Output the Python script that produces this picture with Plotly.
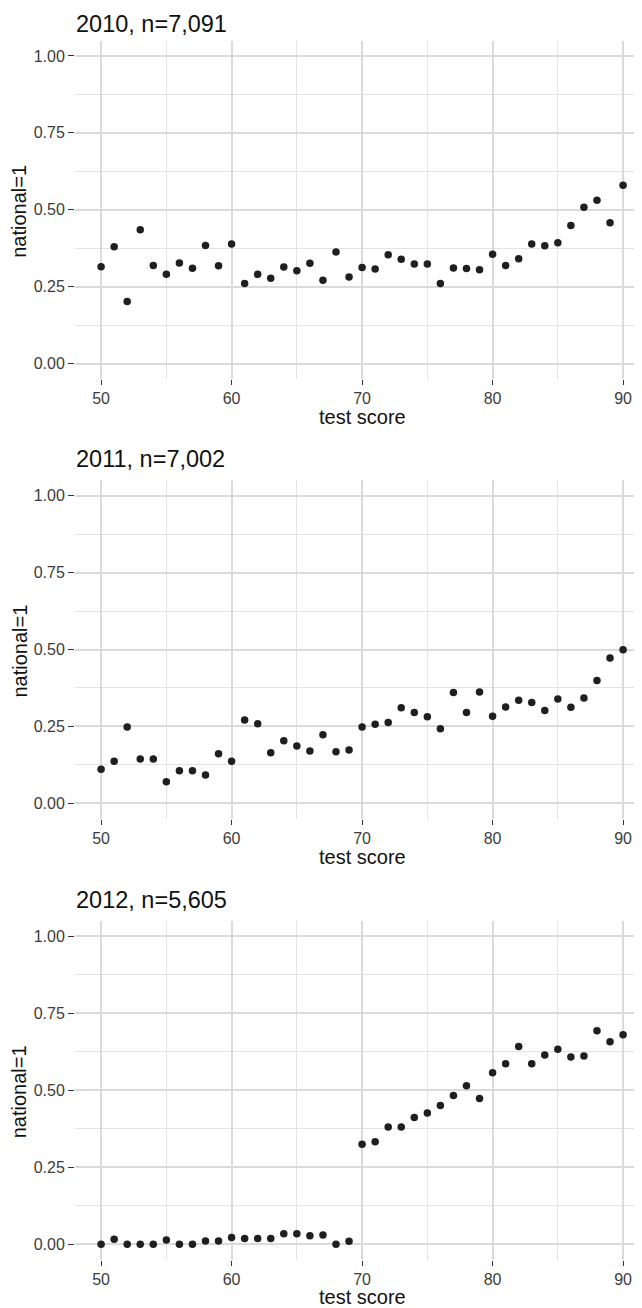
import plotly.graph_objects as go

scores = list(range(50, 91))

years = ["2010", "2011", "2012"]
titles = ["2010, n=7,091", "2011, n=7,002", "2012, n=5,605"]

rate_2010 = [0.315, 0.380, 0.202, 0.435, 0.319, 0.290, 0.327, 0.310, 0.384, 0.318,
             0.389, 0.260, 0.290, 0.277, 0.314, 0.302, 0.326, 0.271, 0.363, 0.281,
             0.312, 0.307, 0.354, 0.339, 0.324, 0.324, 0.260, 0.311, 0.309, 0.305,
             0.355, 0.319, 0.341, 0.389, 0.383, 0.393, 0.449, 0.508, 0.531, 0.458,
             0.580]
rate_2011 = [0.111, 0.137, 0.248, 0.144, 0.144, 0.070, 0.106, 0.106, 0.092, 0.161,
             0.137, 0.271, 0.259, 0.164, 0.203, 0.186, 0.170, 0.223, 0.168, 0.173,
             0.248, 0.257, 0.263, 0.311, 0.295, 0.281, 0.242, 0.360, 0.295, 0.362,
             0.283, 0.313, 0.335, 0.328, 0.302, 0.339, 0.312, 0.342, 0.399, 0.472,
             0.499]
rate_2012 = [0.000, 0.016, 0.000, 0.000, 0.000, 0.014, 0.000, 0.000, 0.011, 0.011,
             0.022, 0.019, 0.019, 0.019, 0.034, 0.034, 0.028, 0.030, 0.000, 0.010,
             0.325, 0.333, 0.381, 0.381, 0.412, 0.426, 0.451, 0.483, 0.515, 0.473,
             0.557, 0.586, 0.642, 0.586, 0.615, 0.633, 0.608, 0.611, 0.693, 0.658,
             0.680]
series = [rate_2010, rate_2011, rate_2012]

y_ticks = [0, 0.25, 0.5, 0.75, 1.0]
y_tick_labels = ["0.00", "0.25", "0.50", "0.75", "1.00"]
x_ticks = [50, 60, 70, 80, 90]
x_title = "test score"
y_title = "national=1"

# the page body has an 8px default margin, so the figure is drawn 8px in
OFF = 8
W, H = 642 - OFF, 1308 - OFF
L = 75 - OFF
# panel pixel extents (top, bottom) in the window
panels_px = [(40.6, 378.9), (480.3, 818.7), (920.9, 1259.7)]
title_center_px = [23.5, 459.0, 899.5]
xtitle_center_px = [417, 857, 1297]

def py(p):
    return 1 - (p - OFF) / H

def px(p):
    return (p - OFF - L) / (W - L)

GRID = "#dadada"
MINOR = "#e3e3e3"
TICKC = "#333333"
TXT = "#3c3c3c"
FONT = "Liberation Sans, Arial, Helvetica, sans-serif"

fig = go.Figure()
annotations = []
layout = {}
for i, (vals, ttl) in enumerate(zip(series, titles)):
    n = "" if i == 0 else str(i + 1)
    fig.add_trace(go.Scatter(
        x=scores, y=vals, mode="markers",
        marker=dict(size=7.5, color="#1f1f1f", line=dict(width=0)),
        xaxis="x" + n, yaxis="y" + n, showlegend=False, hoverinfo="x+y"))
    top, bot = panels_px[i]
    layout["xaxis" + n] = dict(
        domain=[0, 1], anchor="y" + n, range=[48, 91.45],
        tickvals=x_ticks, ticktext=[str(v) for v in x_ticks],
        showgrid=True, gridcolor=GRID, gridwidth=1.6,
        minor=dict(tickvals=[55, 65, 75, 85], showgrid=True, gridcolor=MINOR, gridwidth=0.9, ticks=""),
        ticks="outside", ticklen=5, tickwidth=1.3, tickcolor=TICKC,
        tickfont=dict(size=16, color=TXT, family=FONT),
        zeroline=False, showline=False, fixedrange=True)
    layout["yaxis" + n] = dict(
        domain=[py(bot), py(top)], anchor="x" + n, range=[-0.05, 1.05],
        tickvals=y_ticks, ticktext=y_tick_labels,
        showgrid=True, gridcolor=GRID, gridwidth=1.6,
        minor=dict(tickvals=[0.125, 0.375, 0.625, 0.875], showgrid=True, gridcolor=MINOR, gridwidth=0.9, ticks=""),
        ticks="outside", ticklen=6, tickwidth=1.3, tickcolor=TICKC,
        tickfont=dict(size=16, color=TXT, family=FONT),
        zeroline=False, showline=False, fixedrange=True)
    annotations.append(dict(
        text=ttl, xref="paper", yref="paper", x=0, y=py(title_center_px[i]),
        xanchor="left", yanchor="middle", showarrow=False, borderpad=0,
        font=dict(size=23.5, color="#111111", family=FONT)))
    annotations.append(dict(
        text=x_title, xref="x" + n, yref="paper", x=70, y=py(xtitle_center_px[i]),
        xanchor="center", yanchor="middle", showarrow=False,
        font=dict(size=20, color="#111111", family=FONT)))
    annotations.append(dict(
        text=y_title, xref="paper", yref="paper", x=px(19.0),
        y=py((top + bot) / 2 + 2), xanchor="center", yanchor="middle",
        textangle=-90, showarrow=False, borderpad=0,
        font=dict(size=20, color="#111111", family=FONT)))

fig.update_layout(
    width=W, height=H,
    margin=dict(l=L, r=0, t=0, b=0),
    paper_bgcolor="white", plot_bgcolor="white",
    font=dict(family=FONT),
    annotations=annotations,
    **layout)

fig.write_html("out.html", config={"displayModeBar": False})
